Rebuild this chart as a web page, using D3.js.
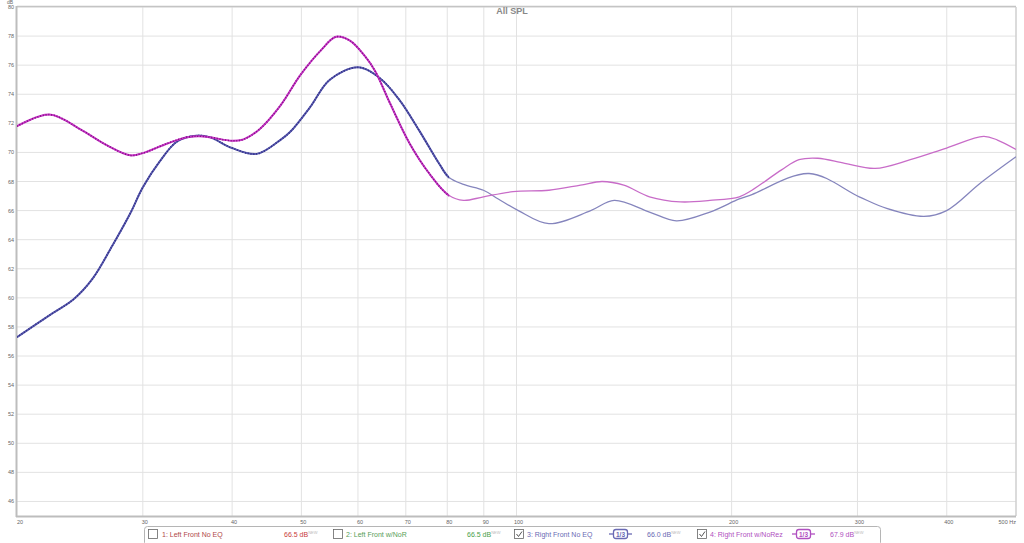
<!DOCTYPE html>
<html><head><meta charset="utf-8">
<script src="https://cdn.jsdelivr.net/npm/d3@7"></script>
<style>
html,body{margin:0;padding:0;background:#fff;}
svg{display:block;font-family:"Liberation Sans",Arial,sans-serif;}
</style></head>
<body>
<svg id="chart" width="1024" height="543"></svg>
<script>
// ---- data ----
const xTicks = [20,30,40,50,60,70,80,90,100,200,300,400,500];
const xTickLabels = ["20","30","40","50","60","70","80","90","100","200","300","400","500 Hz"];
const yTicks = [46,48,50,52,54,56,58,60,62,64,66,68,70,72,74,76,78,80];

const blueFreq = [20,22.2,24.0,25.5,27.2,28.8,30,31.7,33.5,35.6,37.2,40,43.3,46.7,48.2,51.4,54.8,60,64.4,68.6,73.1,78,80.4,84.3,89.9,94.3,100.6,111,127,137,153.5,167.4,186.5,205,213.5,256.7,301.7,329.6,371.6,399.8,446,500];
const blueDb   = [57.3,58.8,59.9,61.3,63.6,65.8,67.6,69.4,70.75,71.15,71.05,70.3,69.9,70.85,71.4,73.1,75.0,75.85,75.1,73.6,71.5,69.2,68.3,67.8,67.4,66.8,66.0,65.1,66.0,66.7,65.9,65.3,65.9,66.8,67.1,68.55,66.95,66.15,65.6,66.0,67.9,69.7];

const magFreq = [20,22.2,24.7,26.7,28.8,30,32.4,34.6,36.5,40,41.5,43.7,46.7,49.8,53.2,55.9,58.4,61.4,63.4,66.5,70.9,75.5,80.4,84.3,89.9,98.9,111,122.9,131.7,141.3,153.5,169.5,186.5,205,213.5,234.9,248.5,264,288,317.5,355.7,399.8,450.5,471,500];
const magDb   = [71.8,72.6,71.5,70.5,69.8,69.95,70.6,71.05,71.1,70.8,70.9,71.6,73.2,75.3,77.0,77.95,77.7,76.6,75.6,73.4,70.6,68.55,67.05,66.7,66.95,67.3,67.4,67.75,68.0,67.75,66.95,66.6,66.7,66.95,67.4,68.8,69.5,69.6,69.25,68.9,69.5,70.3,71.1,70.85,70.2];

const legendNames = ["1: Left Front No EQ","2: Left Front w/NoR","3: Right Front No EQ","4: Right Front w/NoRez"];
const legendLevels = ["66.5 dB","66.5 dB","66.0 dB","67.9 dB"];
const legendChecked = [false,false,true,true];
const legendSmoothed = [false,false,true,true];

// ---- layout ----
const svg = d3.select("#chart");
const L = 17, R = 1016, T = 7, B = 516;
const x = d3.scaleLog().domain([20,500]).range([L,R]);
const y = d3.scaleLinear().domain([45,80]).range([B,T]);

// grid
const g = svg.append("g");
g.selectAll("line.hg").data(yTicks).join("line")
  .attr("x1",L).attr("x2",R).attr("y1",d=>y(d)).attr("y2",d=>y(d))
  .attr("stroke","#e2e2e2").attr("stroke-width",1);
g.selectAll("line.vg").data(xTicks.slice(1,-1)).join("line")
  .attr("x1",d=>x(d)).attr("x2",d=>x(d)).attr("y1",T).attr("y2",B)
  .attr("stroke","#e2e2e2").attr("stroke-width",1);

// frame
svg.append("line").attr("x1",L).attr("x2",R).attr("y1",T-0.5).attr("y2",T-0.5).attr("stroke","#c4c4c4").attr("stroke-width",1.5);
svg.append("line").attr("x1",R).attr("x2",R).attr("y1",T).attr("y2",B).attr("stroke","#cfcfcf").attr("stroke-width",1.5);
svg.append("line").attr("x1",L-0.5).attr("x2",L-0.5).attr("y1",T-1).attr("y2",B+1).attr("stroke","#bdbdbd").attr("stroke-width",2);
svg.append("line").attr("x1",L-1).attr("x2",R).attr("y1",B+0.5).attr("y2",B+0.5).attr("stroke","#bdbdbd").attr("stroke-width",2);

// axes labels
svg.append("g").selectAll("text").data(yTicks).join("text")
  .attr("x",14).attr("y",d=>y(d)+2).attr("text-anchor","end")
  .attr("font-size",5.5).attr("fill","#666").text(d=>d);
svg.append("text").attr("x",7).attr("y",4).attr("font-size",5).attr("fill","#666").text("dB");
svg.append("g").selectAll("text").data(xTicks).join("text")
  .attr("x",(d,i)=>x(d)+(i===0?0:(i===xTicks.length-1?0:2)))
  .attr("y",523.5)
  .attr("text-anchor",(d,i)=>i===0?"start":(i===xTicks.length-1?"end":"middle"))
  .attr("font-size",5.5).attr("fill","#666").text((d,i)=>xTickLabels[i]);

// title
svg.append("text").attr("x",512).attr("y",14).attr("text-anchor","middle")
  .attr("font-size",9).attr("font-weight","bold").attr("fill","#888").text("All SPL");

// curves
const defs = svg.append("defs");
defs.append("clipPath").attr("id","lowclip").append("rect")
  .attr("x",L).attr("y",0).attr("width",x(80.5)-L).attr("height",543);
defs.append("clipPath").attr("id","plotclip").append("rect")
  .attr("x",L).attr("y",T).attr("width",R-L).attr("height",B-T);

const line = d3.line().x(d=>x(d[0])).y(d=>y(d[1])).curve(d3.curveCatmullRom.alpha(0.5));
const blue = blueFreq.map((f,i)=>[f,blueDb[i]]);
const mag = magFreq.map((f,i)=>[f,magDb[i]]);

const series = [
  {data:blue, light:"#8585bd", dark:"#5a5ab0", dots:"#2e2e80"},
  {data:mag,  light:"#c86cc8", dark:"#c838c8", dots:"#801080"}
];
const cg = svg.append("g").attr("clip-path","url(#plotclip)");
series.forEach(s=>{
  cg.append("path").attr("d",line(s.data)).attr("fill","none")
    .attr("stroke",s.light).attr("stroke-width",1.3);
});
series.forEach(s=>{
  const lg = cg.append("g").attr("clip-path","url(#lowclip)");
  lg.append("path").attr("d",line(s.data)).attr("fill","none")
    .attr("stroke",s.dark).attr("stroke-width",2);
  lg.append("path").attr("d",line(s.data)).attr("fill","none")
    .attr("stroke",s.dots).attr("stroke-width",1.6).attr("stroke-dasharray","1,1.8");
});

// legend
const lg = svg.append("g");
lg.append("rect").attr("x",144.5).attr("y",526.5).attr("width",736).attr("height",19).attr("rx",3)
  .attr("fill","#fff").attr("stroke","#b5b5b5");
const items = [
  {cb:148, tx:162, lv:284, col:"#b04848", lvcol:"#c83a3a", icon:null},
  {cb:333, tx:346, lv:467, col:"#58a058", lvcol:"#48a048", icon:null},
  {cb:514, tx:527, lv:647, col:"#6a6ab4", lvcol:"#6a6ab4", icon:609},
  {cb:697, tx:710, lv:830, col:"#b050c0", lvcol:"#b050c0", icon:792}
];
items.forEach((it,i)=>{
  lg.append("rect").attr("x",it.cb+0.5).attr("y",529.5).attr("width",9).attr("height",9)
    .attr("fill","#fff").attr("stroke","#666").attr("stroke-width",0.8);
  if(legendChecked[i]){
    lg.append("path").attr("d",`M${it.cb+2.5},${534} L${it.cb+4.5},${536.5} L${it.cb+8},${531.5}`)
      .attr("fill","none").attr("stroke","#555").attr("stroke-width",1);
  }
  lg.append("text").attr("x",it.tx).attr("y",537).attr("font-size",7).attr("fill",it.col).text(legendNames[i]);
  const t = lg.append("text").attr("x",it.lv).attr("y",537).attr("font-size",7).attr("fill",it.lvcol);
  t.append("tspan").text(legendLevels[i]);
  t.append("tspan").attr("dy",-3).attr("font-size",4).attr("fill","#bbb").text("NEW");
  if(legendSmoothed[i]){
    const ix = it.icon;
    lg.append("rect").attr("x",ix+4.5).attr("y",529.5).attr("width",14).attr("height",9).attr("rx",2.5)
      .attr("fill","none").attr("stroke",it.col).attr("stroke-width",1.3);
    lg.append("line").attr("x1",ix).attr("x2",ix+4.5).attr("y1",534).attr("y2",534).attr("stroke",it.col).attr("stroke-width",1.3);
    lg.append("line").attr("x1",ix+18.5).attr("x2",ix+23).attr("y1",534).attr("y2",534).attr("stroke",it.col).attr("stroke-width",1.3);
    lg.append("text").attr("x",ix+11.5).attr("y",537).attr("text-anchor","middle").attr("font-size",6.5)
      .attr("font-weight","bold").attr("fill",it.col).text("1/3");
  }
});
</script>
</body></html>
